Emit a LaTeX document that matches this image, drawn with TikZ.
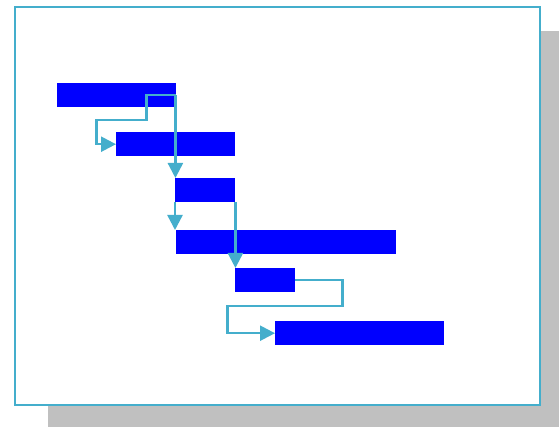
\documentclass[tikz,border=0pt]{standalone}
\usetikzlibrary{arrows.meta,calc}
\definecolor{linkc}{HTML}{44AECC}
\definecolor{barc}{HTML}{0000FF}
\definecolor{shadowc}{HTML}{C0C0C0}
\begin{document}
\begin{tikzpicture}[x=1pt,y=-1pt,
  bar/.style={fill=barc,draw=none,inner sep=0pt,minimum height=24pt,anchor=north west},
  link/.style={draw=linkc,line width=2.4pt,-{Triangle[length=15pt,width=15pt]}}]
\useasboundingbox (0,0) rectangle (559,427);
\fill[shadowc] (48,31) rectangle (559,427);
\draw[linkc,fill=white,line width=2pt] (15,7) rectangle (540,405);
\node[bar,minimum width=119pt] (b1) at (57,83) {};
\node[bar,minimum width=119pt] (b2) at (116,132) {};
\node[bar,minimum width=60pt] (b3) at (175,178) {};
\node[bar,minimum width=220pt] (b4) at (176,230) {};
\node[bar,minimum width=60pt] (b5) at (235,268) {};
\node[bar,minimum width=169pt] (b6) at (275,321) {};
\draw[link] (b1.east) -- ++(-30,0) -- ++(0,25) -- ++(-50,0) |- (b2.west);
\draw[link] ($(b1.east)+(-1,0)$) -- ($(b1.east |- b3.north)+(-1,0)$);
\draw[link] (b3.south west) -- (b3.south west |- b4.north);
\draw[link] (b3.south east) -- (b3.south east |- b5.north);
\draw[link] (b5.east) -- ++(47,0) -- ++(0,26) -- ++(-115,0) |- (b6.west);
\end{tikzpicture}
\end{document}
